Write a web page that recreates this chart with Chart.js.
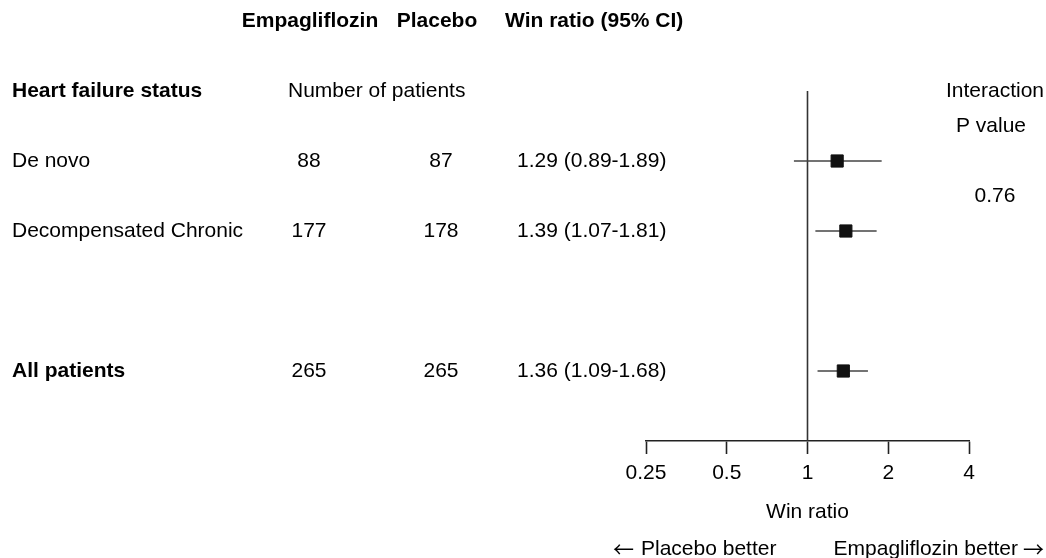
<!DOCTYPE html>
<html>
<head>
<meta charset="utf-8">
<title>Win ratio by heart failure status</title>
<script src="https://cdn.jsdelivr.net/npm/chart.js@4.4.1/dist/chart.umd.min.js"></script>
<style>
  html, body { margin: 0; padding: 0; background: #ffffff; }
  #wrap { width: 1046px; height: 558px; position: relative; }
</style>
</head>
<body>
<div id="wrap"><canvas id="forest" width="1046" height="558"></canvas></div>
<script>
// Subgroups and their row positions on the y scale (0 = section header row)
const groups = ['De novo', 'Decompensated Chronic', 'All patients'];
const groupBold = [false, false, true];
const rowPos = [1, 2, 4];

// Patients per arm
const nEmpagliflozin = [88, 177, 265];
const nPlacebo = [87, 178, 265];

// Win ratio with 95% confidence interval
const winRatio = [1.29, 1.39, 1.36];
const ciLow = [0.89, 1.07, 1.09];
const ciHigh = [1.89, 1.81, 1.68];

// Interaction test across heart failure status
const interactionP = '0.76';

// Log-scale axis ticks
const tickValues = [0.25, 0.5, 1, 2, 4];
const tickLabels = ['0.25', '0.5', '1', '2', '4'];

const FONT = '"Liberation Sans", Arial, Helvetica, sans-serif';
const ARROW_FONT = '"Noto Sans CJK SC", "DejaVu Sans", sans-serif';
const FS = 21;

// One short line per subgroup for its confidence interval
const ciDatasets = groups.map((g, i) => ({
  type: 'line',
  label: g + ' CI',
  data: [{ x: ciLow[i], y: rowPos[i] }, { x: ciHigh[i], y: rowPos[i] }],
  borderColor: '#444444',
  borderWidth: 1.6,
  pointRadius: 0,
  clip: false,
  order: 2
}));

// Line of no effect at win ratio = 1
const refLine = {
  type: 'line',
  label: 'No effect',
  data: [{ x: 1, y: 0 }, { x: 1, y: 5 }],
  borderColor: '#333333',
  borderWidth: 1.6,
  pointRadius: 0,
  clip: false,
  order: 3
};

// Point estimates as filled squares
const estimates = {
  type: 'scatter',
  label: 'Win ratio',
  data: groups.map((g, i) => ({ x: winRatio[i], y: rowPos[i] })),
  pointStyle: 'rect',
  pointRadius: 8.6,
  pointHoverRadius: 8.6,
  backgroundColor: '#111111',
  borderColor: '#111111',
  borderWidth: 1,
  clip: false,
  order: 1
};

// Table columns and labels drawn next to the plot
const tableText = {
  id: 'tableText',
  afterDraw(chart) {
    const ctx = chart.ctx;
    const y = chart.scales.y;
    const area = chart.chartArea;
    const put = (txt, px, row, align, bold, family) => {
      ctx.font = (bold ? 'bold ' : '') + FS + 'px ' + (family || FONT);
      ctx.textAlign = align;
      ctx.fillText(txt, px, typeof row === 'number' ? y.getPixelForValue(row) : row.px);
    };
    ctx.save();
    ctx.fillStyle = '#000000';
    ctx.textBaseline = 'middle';

    // Column headers
    put('Empagliflozin', 310, -1, 'center', true);
    put('Placebo', 437, -1, 'center', true);
    put('Win ratio (95% CI)', 505, -1, 'left', true);

    // Section header
    put('Heart failure status', 12, 0, 'left', true);
    put('Number of patients', 288, 0, 'left', false);
    put('Interaction', 1044, 0, 'right', false);
    put('P value', 991, 0.5, 'center', false);
    put(interactionP, 995, 1.5, 'center', false);

    // Subgroup rows
    groups.forEach((g, i) => {
      const r = rowPos[i];
      put(g, 12, r, 'left', groupBold[i]);
      put(String(nEmpagliflozin[i]), 309, r, 'center', false);
      put(String(nPlacebo[i]), 441, r, 'center', false);
      put(winRatio[i].toFixed(2) + ' (' + ciLow[i].toFixed(2) + '-' + ciHigh[i].toFixed(2) + ')', 517, r, 'left', false);
    });

    // Axis title and direction labels under the axis
    const x1 = chart.scales.x.getPixelForValue(1);
    const dirY = { px: area.bottom + 108 };
    put('Win ratio', x1, { px: area.bottom + 71 }, 'center', false);
    put('\u2190', 634, dirY, 'right', false, ARROW_FONT);
    put('Placebo better', 641, dirY, 'left', false);
    put('Empagliflozin better', 1018, dirY, 'right', false);
    put('\u2192', 1044, dirY, 'right', false, ARROW_FONT);
    ctx.restore();
  }
};

new Chart(document.getElementById('forest'), {
  data: { datasets: [estimates, ...ciDatasets, refLine] },
  options: {
    responsive: false,
    animation: false,
    events: [],
    layout: { padding: { left: 646, right: 77, top: 91, bottom: 77 } },
    plugins: { legend: { display: false }, tooltip: { enabled: false } },
    scales: {
      x: {
        type: 'logarithmic',
        position: 'bottom',
        min: 0.25,
        max: 4,
        afterBuildTicks(scale) {
          scale.ticks = tickValues.map(v => ({ value: v }));
        },
        afterFit(scale) { scale.height = 40; },
        border: { display: true, color: '#222222', width: 1.6 },
        grid: {
          display: true,
          drawOnChartArea: false,
          drawTicks: true,
          tickLength: 13,
          tickWidth: 1.6,
          tickColor: '#222222'
        },
        ticks: {
          autoSkip: false,
          maxRotation: 0,
          padding: 7,
          color: '#000000',
          font: { family: FONT, size: FS },
          callback(value) {
            const k = tickValues.indexOf(value);
            return k >= 0 ? tickLabels[k] : '';
          }
        }
      },
      y: {
        type: 'linear',
        display: false,
        reverse: true,
        min: 0,
        max: 5
      }
    }
  },
  plugins: [tableText]
});
</script>
</body>
</html>
